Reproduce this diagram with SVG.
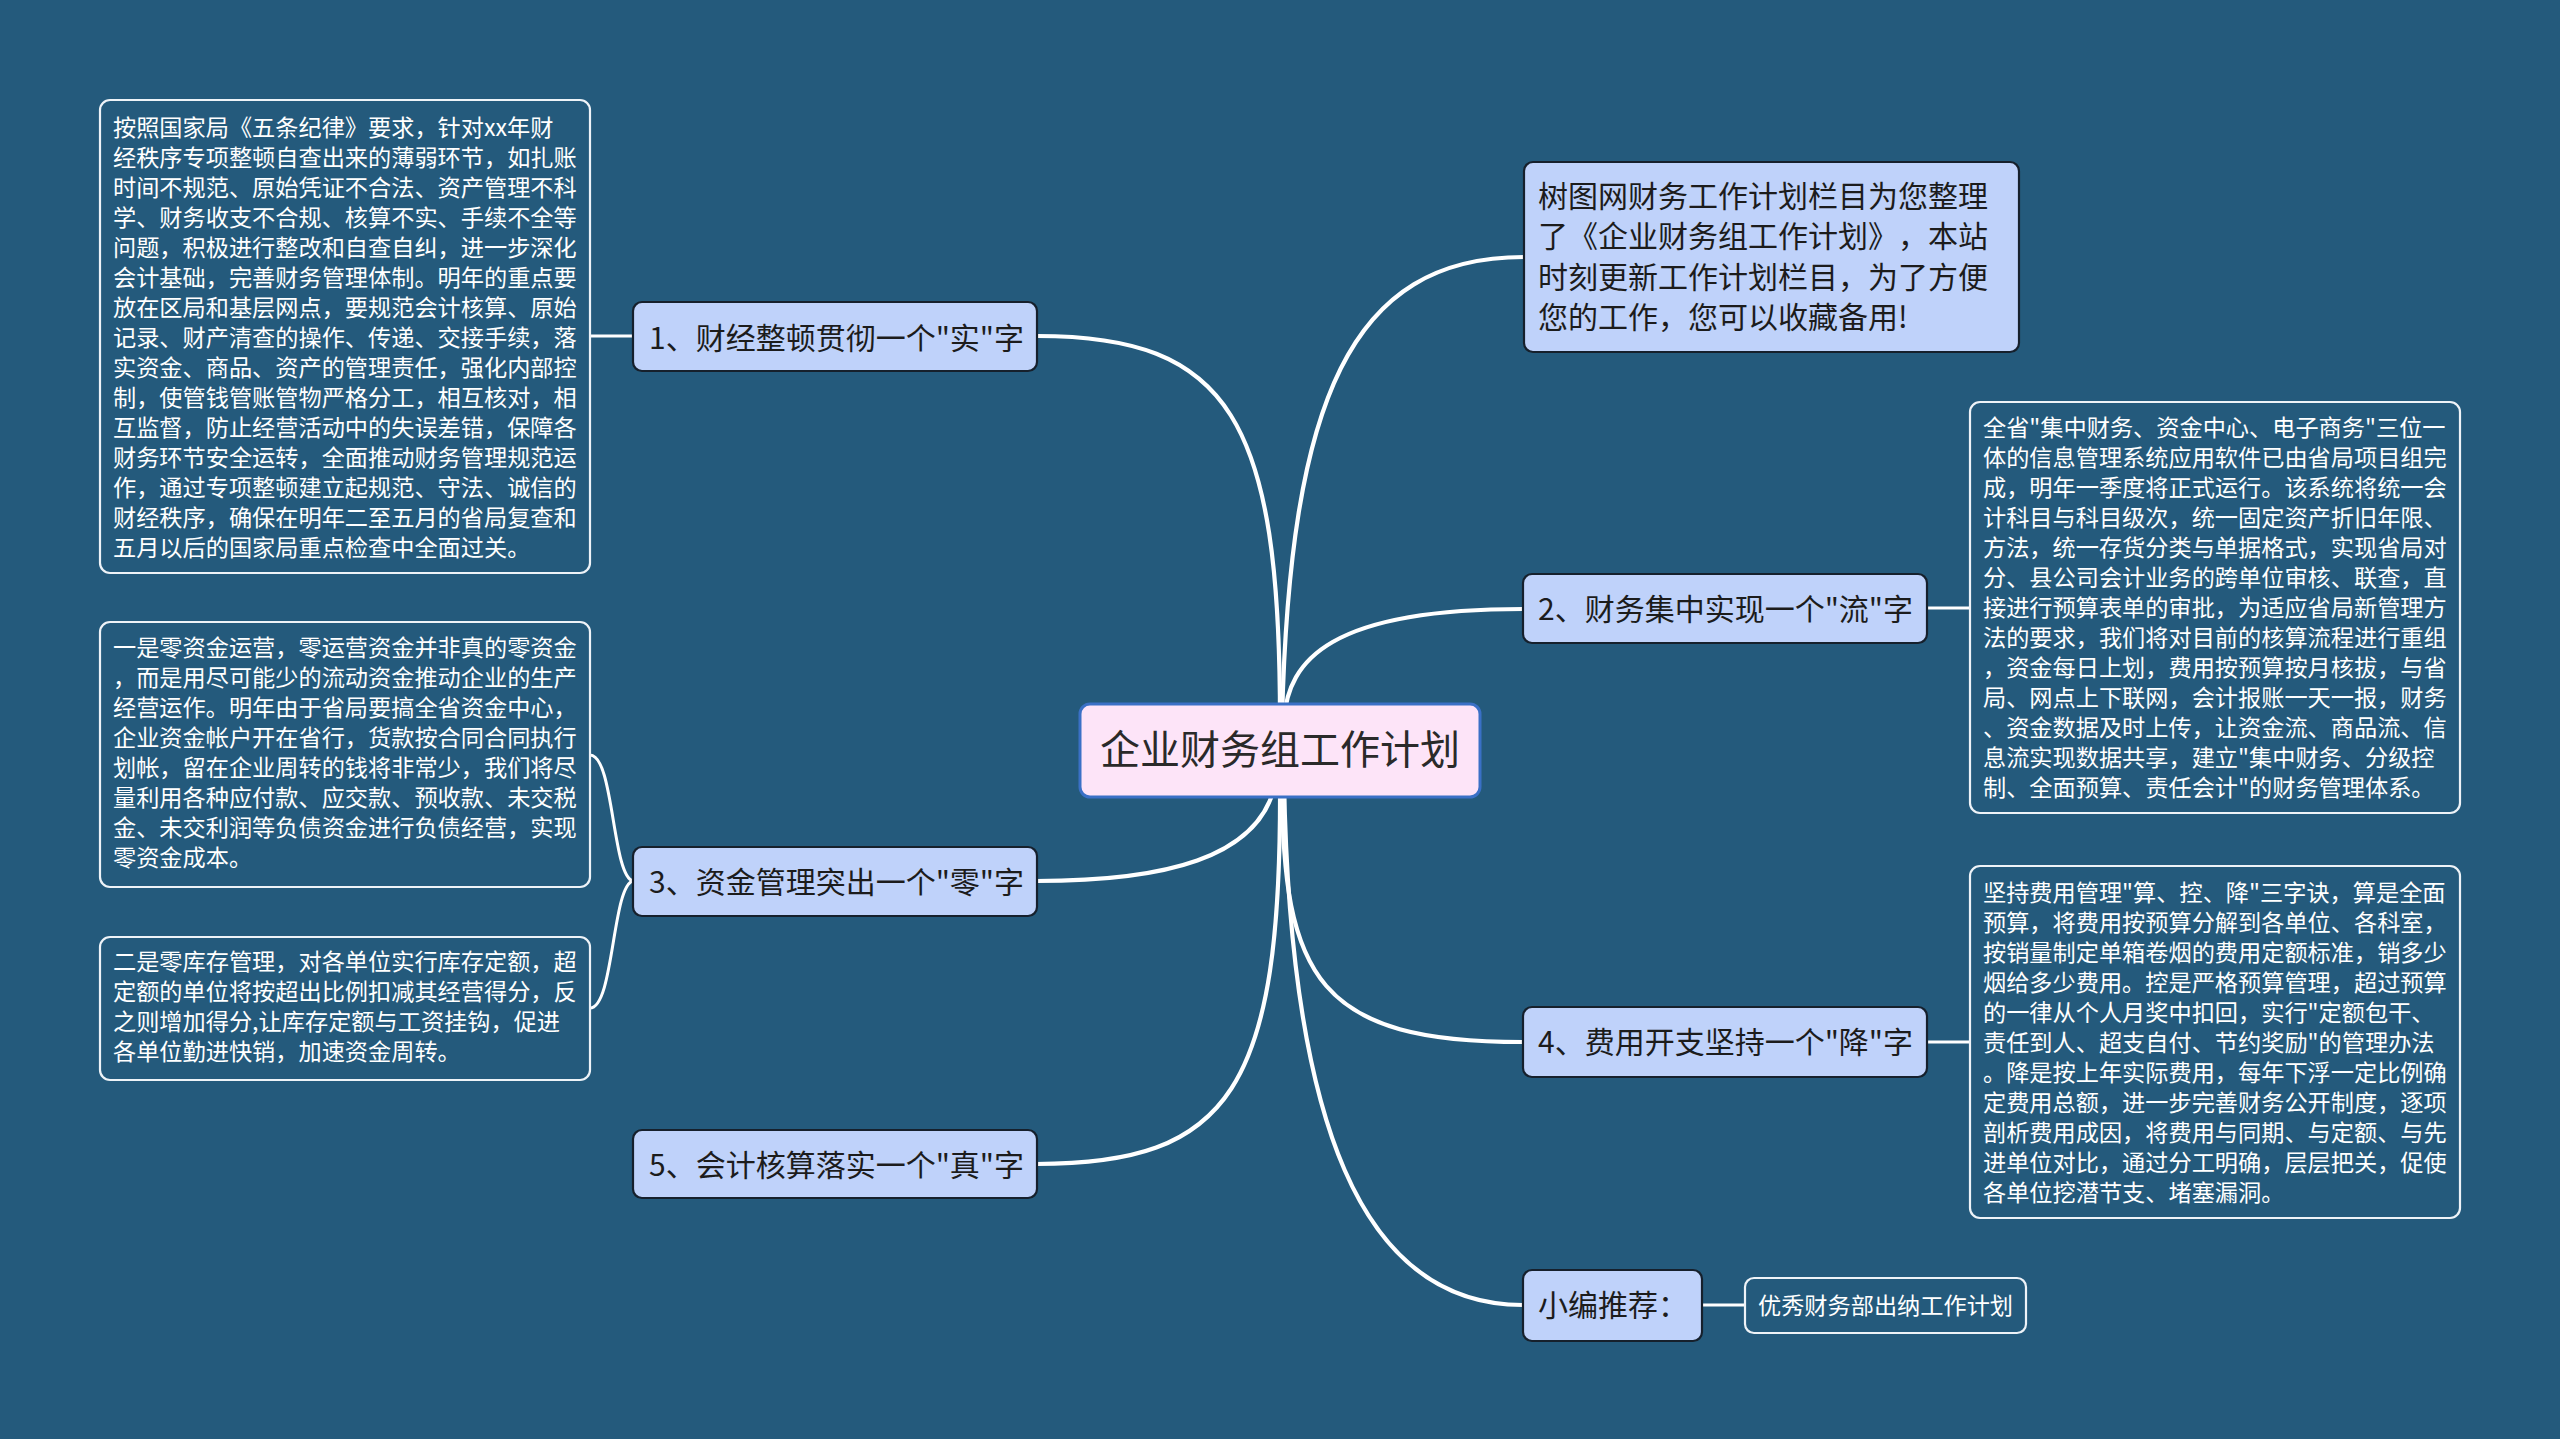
<svg xmlns="http://www.w3.org/2000/svg" width="2560" height="1439" viewBox="0 0 2560 1439">
<style>
text{font-family:"Noto Sans CJK SC","Noto Sans",sans-serif;text-spacing-trim:space-all;}
.l1 rect{fill:#bfd2fa;stroke:#16202c;stroke-width:2.2;}
.l1 text{font-size:30px;fill:#1c1c1c;}
.det rect{fill:#245a7c;stroke:#eef3f8;stroke-width:2.2;}
.det text{font-size:23.2px;fill:#ffffff;}
.conn path{fill:none;stroke:#ffffff;stroke-linecap:round;}
.main{stroke-width:4.2;}
.sub{stroke-width:3;}
</style>
<rect x="0" y="0" width="2560" height="1439" fill="#245a7c"/>
<g id="connectors" class="conn">
<path class="main" d="M1280,720 C1280,420 1230,336 1037,336"/>
<path class="main" d="M1282,720 C1290,400 1350,257 1524,257"/>
<path class="main" d="M1284,720 C1288,660 1330,609 1523,609"/>
<path class="main" d="M1276,780 C1262,860 1160,881 1036,881"/>
<path class="main" d="M1280,780 C1282,1090 1230,1164 1036,1164"/>
<path class="main" d="M1282,780 C1282,980 1320,1042 1523,1042"/>
<path class="main" d="M1284,780 C1290,1120 1360,1305 1523,1305"/>
<path class="sub" d="M633,336 L590,336"/>
<path class="sub" d="M633,881 C612,876 614,755 590,755"/>
<path class="sub" d="M633,881 C612,886 614,1008 590,1008"/>
<path class="sub" d="M1927,608 L1970,608"/>
<path class="sub" d="M1927,1042 L1970,1042"/>
<path class="sub" d="M1702,1305 L1745,1305"/>
</g>
<g id="center">
<rect x="1080" y="704" width="400" height="93" rx="10" fill="#fde4f8" stroke="#3a70c6" stroke-width="3"/>
<text x="1280" y="764" text-anchor="middle" font-size="40" fill="#2a2a2a">企业财务组工作计划</text>
</g>
<g id="node-intro" class="l1">
<rect x="1524" y="162" width="495" height="190" rx="9"/>
<text><tspan x="1538" y="206.5">树图网财务工作计划栏目为您整理</tspan><tspan x="1538" y="247">了《企业财务组工作计划》，本站</tspan><tspan x="1538" y="287.5">时刻更新工作计划栏目，为了方便</tspan><tspan x="1538" y="328">您的工作，您可以收藏备用!</tspan></text>
</g>
<g id="node-1" class="l1">
<rect x="633" y="302" width="404" height="69" rx="9"/>
<text x="649" y="349">1、财经整顿贯彻一个"实"字</text>
</g>
<g id="node-2" class="l1">
<rect x="1523" y="574" width="404" height="69" rx="9"/>
<text x="1538" y="620">2、财务集中实现一个"流"字</text>
</g>
<g id="node-3" class="l1">
<rect x="633" y="847" width="404" height="69" rx="9"/>
<text x="649" y="893">3、资金管理突出一个"零"字</text>
</g>
<g id="node-4" class="l1">
<rect x="1523" y="1007" width="404" height="70" rx="9"/>
<text x="1538" y="1053">4、费用开支坚持一个"降"字</text>
</g>
<g id="node-5" class="l1">
<rect x="633" y="1130" width="404" height="68" rx="9"/>
<text x="649" y="1176">5、会计核算落实一个"真"字</text>
</g>
<g id="node-rec" class="l1">
<rect x="1523" y="1270" width="179" height="71" rx="9"/>
<text x="1538" y="1316">小编推荐：</text>
</g>
<g id="node-link" class="det">
<rect x="1745" y="1278" width="281" height="55" rx="9"/>
<text x="1758" y="1314">优秀财务部出纳工作计划</text>
</g>
<g id="detail-1" class="det">
<rect x="100" y="100" width="490" height="473" rx="10"/>
<text><tspan x="113" y="136">按照国家局《五条纪律》要求，针对xx年财</tspan><tspan x="113" y="166">经秩序专项整顿自查出来的薄弱环节，如扎账</tspan><tspan x="113" y="196">时间不规范、原始凭证不合法、资产管理不科</tspan><tspan x="113" y="226">学、财务收支不合规、核算不实、手续不全等</tspan><tspan x="113" y="256">问题，积极进行整改和自查自纠，进一步深化</tspan><tspan x="113" y="286">会计基础，完善财务管理体制。明年的重点要</tspan><tspan x="113" y="316">放在区局和基层网点，要规范会计核算、原始</tspan><tspan x="113" y="346">记录、财产清查的操作、传递、交接手续，落</tspan><tspan x="113" y="376">实资金、商品、资产的管理责任，强化内部控</tspan><tspan x="113" y="406">制，使管钱管账管物严格分工，相互核对，相</tspan><tspan x="113" y="436">互监督，防止经营活动中的失误差错，保障各</tspan><tspan x="113" y="466">财务环节安全运转，全面推动财务管理规范运</tspan><tspan x="113" y="496">作，通过专项整顿建立起规范、守法、诚信的</tspan><tspan x="113" y="526">财经秩序，确保在明年二至五月的省局复查和</tspan><tspan x="113" y="556">五月以后的国家局重点检查中全面过关。</tspan></text>
</g>
<g id="detail-3a" class="det">
<rect x="100" y="622" width="490" height="265" rx="10"/>
<text><tspan x="113" y="656">一是零资金运营，零运营资金并非真的零资金</tspan><tspan x="113" y="686">，而是用尽可能少的流动资金推动企业的生产</tspan><tspan x="113" y="716">经营运作。明年由于省局要搞全省资金中心，</tspan><tspan x="113" y="746">企业资金帐户开在省行，货款按合同合同执行</tspan><tspan x="113" y="776">划帐，留在企业周转的钱将非常少，我们将尽</tspan><tspan x="113" y="806">量利用各种应付款、应交款、预收款、未交税</tspan><tspan x="113" y="836">金、未交利润等负债资金进行负债经营，实现</tspan><tspan x="113" y="866">零资金成本。</tspan></text>
</g>
<g id="detail-3b" class="det">
<rect x="100" y="937" width="490" height="143" rx="10"/>
<text><tspan x="113" y="970">二是零库存管理，对各单位实行库存定额，超</tspan><tspan x="113" y="1000">定额的单位将按超出比例扣减其经营得分，反</tspan><tspan x="113" y="1030">之则增加得分,让库存定额与工资挂钩，促进</tspan><tspan x="113" y="1060">各单位勤进快销，加速资金周转。</tspan></text>
</g>
<g id="detail-2" class="det">
<rect x="1970" y="402" width="490" height="411" rx="10"/>
<text><tspan x="1983" y="436">全省"集中财务、资金中心、电子商务"三位一</tspan><tspan x="1983" y="466">体的信息管理系统应用软件已由省局项目组完</tspan><tspan x="1983" y="496">成，明年一季度将正式运行。该系统将统一会</tspan><tspan x="1983" y="526">计科目与科目级次，统一固定资产折旧年限、</tspan><tspan x="1983" y="556">方法，统一存货分类与单据格式，实现省局对</tspan><tspan x="1983" y="586">分、县公司会计业务的跨单位审核、联查，直</tspan><tspan x="1983" y="616">接进行预算表单的审批，为适应省局新管理方</tspan><tspan x="1983" y="646">法的要求，我们将对目前的核算流程进行重组</tspan><tspan x="1983" y="676">，资金每日上划，费用按预算按月核拔，与省</tspan><tspan x="1983" y="706">局、网点上下联网，会计报账一天一报，财务</tspan><tspan x="1983" y="736">、资金数据及时上传，让资金流、商品流、信</tspan><tspan x="1983" y="766">息流实现数据共享，建立"集中财务、分级控</tspan><tspan x="1983" y="796">制、全面预算、责任会计"的财务管理体系。</tspan></text>
</g>
<g id="detail-4" class="det">
<rect x="1970" y="866" width="490" height="352" rx="10"/>
<text><tspan x="1983" y="901">坚持费用管理"算、控、降"三字诀，算是全面</tspan><tspan x="1983" y="931">预算，将费用按预算分解到各单位、各科室，</tspan><tspan x="1983" y="961">按销量制定单箱卷烟的费用定额标准，销多少</tspan><tspan x="1983" y="991">烟给多少费用。控是严格预算管理，超过预算</tspan><tspan x="1983" y="1021">的一律从个人月奖中扣回，实行"定额包干、</tspan><tspan x="1983" y="1051">责任到人、超支自付、节约奖励"的管理办法</tspan><tspan x="1983" y="1081">。降是按上年实际费用，每年下浮一定比例确</tspan><tspan x="1983" y="1111">定费用总额，进一步完善财务公开制度，逐项</tspan><tspan x="1983" y="1141">剖析费用成因，将费用与同期、与定额、与先</tspan><tspan x="1983" y="1171">进单位对比，通过分工明确，层层把关，促使</tspan><tspan x="1983" y="1201">各单位挖潜节支、堵塞漏洞。</tspan></text>
</g>
</svg>
